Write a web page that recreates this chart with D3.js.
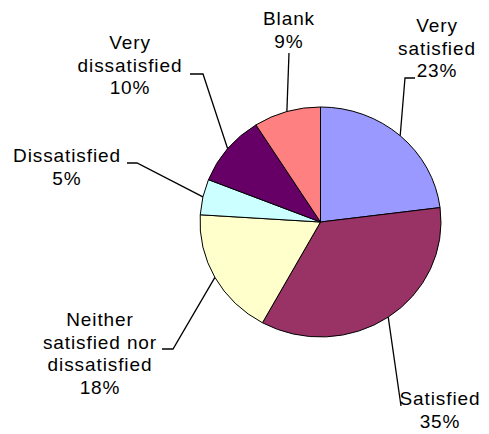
<!DOCTYPE html>
<html>
<head>
<meta charset="utf-8">
<script src="https://cdn.jsdelivr.net/npm/d3@7"></script>
<style>
  body { margin: 0; background: #fff; }
  svg text { font-family: Arial, "Liberation Sans", sans-serif; font-size: 19px; letter-spacing: 0.9px; fill: #000; }
</style>
</head>
<body>
<div id="chart"></div>
<script>
// answers, clockwise from 12 o'clock
var categories = ["Very satisfied", "Satisfied", "Neither satisfied nor dissatisfied", "Dissatisfied", "Very dissatisfied", "Blank"];
var shares = [23, 35, 18, 5, 10, 9];
var labelLines = [
  ["Very", "satisfied"],
  ["Satisfied"],
  ["Neither", "satisfied nor", "dissatisfied"],
  ["Dissatisfied"],
  ["Very", "dissatisfied"],
  ["Blank"]
];
var colors = ["#9999FF", "#993366", "#FFFFCC", "#CCFFFF", "#660066", "#FF8080"];

// where excel left the data labels (center x, first baseline, elbow of the leader)
var labelLayout = [
  { x: 437, y: 32, elbow: [[415, 78], [405, 78]] },
  { x: 440, y: 405, elbow: [[401, 406]] },
  { x: 100, y: 326, elbow: [[162, 349], [173, 349]] },
  { x: 67, y: 162, elbow: [[127, 163], [137, 163]] },
  { x: 130, y: 49, elbow: [[190, 74], [203, 74]] },
  { x: 289, y: 25, elbow: [[289, 53]] }
];

var width = 489, height = 434;
var cx = 320.5, cy = 222, rx = 120.5, ry = 115;
var lineGap = 22.5;

var svg = d3.select("#chart").append("svg")
  .attr("width", width)
  .attr("height", height);

var data = categories.map(function(c, i) {
  return { name: c, value: shares[i], color: colors[i], lines: labelLines[i], layout: labelLayout[i] };
});

var pie = d3.pie()
  .sort(null)
  .value(function(d) { return d.value; });

var arcs = pie(data);

var arc = d3.arc().innerRadius(0).outerRadius(rx);

// the excel pie is a touch flatter than round
var g = svg.append("g")
  .attr("transform", "translate(" + cx + "," + cy + ") scale(1," + (ry / rx) + ")");

g.selectAll("path")
  .data(arcs)
  .enter().append("path")
  .attr("d", arc)
  .style("fill", function(d) { return d.data.color; })
  .style("stroke", "#000")
  .style("stroke-width", 1)
  .attr("vector-effect", "non-scaling-stroke");

// leader lines: from label elbow to the rim at the slice's middle angle
function rimPoint(d) {
  var a = (d.startAngle + d.endAngle) / 2;
  return [cx + rx * Math.sin(a), cy - ry * Math.cos(a)];
}

var line = d3.line();

svg.selectAll(".leader")
  .data(arcs)
  .enter().append("path")
  .attr("class", "leader")
  .attr("d", function(d) {
    return line(d.data.layout.elbow.concat([rimPoint(d)]));
  })
  .style("fill", "none")
  .style("stroke", "#000")
  .style("stroke-width", 1.3);

var labels = svg.selectAll(".lbl")
  .data(arcs)
  .enter().append("text")
  .attr("class", "lbl")
  .attr("text-anchor", "middle");

labels.each(function(d) {
  var t = d3.select(this);
  var lines = d.data.lines.concat([d.data.value + "%"]);
  lines.forEach(function(s, i) {
    t.append("tspan")
      .attr("x", d.data.layout.x)
      .attr("y", d.data.layout.y + i * lineGap)
      .text(s);
  });
});
</script>
</body>
</html>
